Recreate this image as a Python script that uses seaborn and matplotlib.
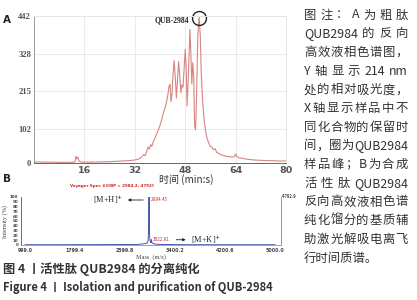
import re
import numpy as np
import pandas as pd
import seaborn as sns
import matplotlib
matplotlib.use("Agg")
import matplotlib.pyplot as plt
from matplotlib.patches import FancyArrowPatch

sns.set_style("white")
plt.rcParams["font.family"] = ["Noto Sans CJK SC", "DejaVu Sans"]

# ---------------- Panel A: RP-HPLC chromatogram ----------------
rt_min = [0, 2, 4, 6, 8, 10, 12, 13.0, 13.3, 13.6, 13.9, 14.3, 15, 18, 20, 22, 24, 26,
          28, 30, 31, 32, 33, 34, 34.8, 35.3, 35.8, 36.2, 36.6, 37.0, 37.4, 37.8, 38.3,
          38.8, 39.3, 39.8, 40.3, 40.8, 41.3, 41.7, 42.1, 42.5, 42.9, 43.2, 43.5, 43.8,
          44.1, 44.5, 44.9, 45.2, 45.5, 45.9, 46.3, 46.6, 47.0, 47.3, 47.7, 48.0, 48.3,
          48.6, 49.0, 49.5, 49.8, 50.1, 50.4, 50.7, 51.0, 51.3, 51.6, 52.0, 52.4, 52.8,
          53.1, 53.5, 54.0, 54.5, 55.0, 55.5, 56.0, 56.5, 57.0, 57.5, 58.0, 58.5, 59.0,
          60.0, 61.0, 62.0, 63.0, 63.6, 64.0, 64.4, 65.0, 66.0, 68.0, 70.0, 72.0, 75.0,
          78.0, 80.0]
absorb = [3, 3, 2.5, 2.5, 2, 2, 2, 3, 20, 12, 18, 5, 3, 2.5, 3, 3.5, 4, 5,
          6, 7, 8, 9, 11, 16, 25, 22, 35, 48, 42, 55, 50, 63, 72,
          85, 95, 108, 122, 140, 158, 168, 185, 205, 232, 236, 185, 205,
          260, 308, 250, 195, 240, 305, 260, 212, 235, 228, 290, 342, 290,
          172, 260, 402, 330, 238, 302, 260, 110, 100, 200, 380, 442, 380,
          270, 190, 130, 95, 72, 60, 50, 47, 40, 43, 32, 30, 26,
          23, 20, 19, 18, 19, 27, 20, 16, 14, 11, 9, 8, 7,
          6, 6]
a_xticks = [16, 32, 48, 64, 80]
a_yticks = [0, 102, 215, 328, 442]
a_peak_name = "QUB-2984"

# ---------------- Panel B: MALDI-TOF spectrum ----------------
mz = [999.0, 1500, 2000, 2500, 2800, 2900, 2950, 2970, 2978, 2982, 2984.45, 2987,
      2990, 2995, 3005, 3015, 3022.81, 3030, 3050, 3100, 3200, 3500, 4000, 5000.0]
intensity = [0.6, 0.6, 0.8, 0.9, 1.2, 2.5, 4, 9, 40, 85, 100, 70,
             35, 14, 7, 5, 11, 5, 3, 1.5, 1, 0.7, 0.6, 0.6]
b_xticks = [999.0, 1799.4, 2599.8, 3400.2, 4200.6, 5000.0]
b_yticks = [0, 10, 20, 30, 40, 50, 60, 70, 80, 90, 100]
b_title = "Voyager Spec #1[BP = 2984.2, 4792]"
b_peaks = [2984.45, 3022.81]
b_peak_heights = [100, 11]
b_peak_names = ["[M+H]$^{+}$", "[M+K]$^{+}$"]

caption_lines = ["图 注：A 为 粗 肽", "QUB2984 的 反 向", "高效液相色谱图，",
                 "Y 轴 显 示 214 nm", "处的相对吸光度，", "X 轴显示样品中不",
                 "同化合物的保留时", "间，圈为 QUB2984", "样品峰；B 为合成",
                 "活 性 肽 QUB2984", "反向高效液相色谱", "纯化馏分的基质辅",
                 "助激光解吸电离飞", "行时间质谱。"]
title_cn = "图 4 丨活性肽 QUB2984 的分离纯化"
title_en = "Figure 4 丨 Isolation and purification of QUB-2984"

W, H = 417, 300
fig = plt.figure(figsize=(W / 100, H / 100), dpi=100)


def fx(px):
    return px / W


def fy(py):
    return 1 - py / H


# ---------- Panel A ----------
axA = fig.add_axes([fx(34), fy(163), fx(286) - fx(34), fy(16) - fy(163)])
dfA = pd.DataFrame({"t": rt_min, "a": absorb})
sns.lineplot(data=dfA, x="t", y="a", ax=axA, color="#d98580", linewidth=0.8)
axA.set_xlim(0, 80)
axA.set_ylim(0, 442)
axA.set_xticks(a_xticks)
axA.set_xticklabels([str(v) for v in a_xticks], fontsize=6.8, fontweight="bold",
                    color="#555555", family=["DejaVu Sans"])
axA.set_yticks(a_yticks)
axA.set_yticklabels([str(v) for v in a_yticks], fontsize=6.2, fontweight="bold",
                    color="#555555", family=["Liberation Serif"])
axA.tick_params(length=0, pad=2)
axA.set_xlabel("")
axA.set_ylabel("")
for v in a_xticks[:-1]:
    axA.axvline(v, color="#e8e8e8", lw=0.6, zorder=0)
for v in a_yticks[1:-1]:
    axA.axhline(v, color="#e8e8e8", lw=0.6, zorder=0)
axA.spines["left"].set_color("#999999")
axA.spines["bottom"].set_color("#666666")
axA.spines["top"].set_color("#e4e4e4")
axA.spines["right"].set_color("#e4e4e4")
for s in axA.spines.values():
    s.set_linewidth(0.7)
ipk = int(np.argmax(absorb))
axA.plot(rt_min[ipk], absorb[ipk] - 5, marker="o", ms=10, mfc="none", mec="#222222",
         mew=1.0, clip_on=False)
axA.annotate(a_peak_name, xy=(rt_min[ipk], absorb[ipk]), xytext=(-7, -3),
             textcoords="offset points", ha="right", va="center", fontsize=5.5,
             fontweight="bold", family=["Liberation Serif"], color="#222222")

fig.text(fx(3), fy(20), "A", fontsize=7.5, fontweight="bold", color="#222222",
         va="center", ha="left", family=["DejaVu Sans"])
fig.text(fx(186), fy(180), "时间 (min:s)", fontsize=7.2, color="#333333",
         ha="center", va="center")

# ---------- Panel B ----------
axB = fig.add_axes([fx(21), fy(245), fx(281) - fx(21), fy(197) - fy(245)])
dfB = pd.DataFrame({"mz": mz, "i": intensity})
sns.lineplot(data=dfB, x="mz", y="i", ax=axB, color="#4455aa", linewidth=0.7)
axB.set_xlim(935, 5096)
axB.set_ylim(0, 100)
axB.set_xticks(b_xticks)
axB.set_xticklabels([f"{v:.1f}" for v in b_xticks], fontsize=3.4, fontweight="bold",
                    color="#444444", family=["DejaVu Sans"])
axB.set_yticks(b_yticks)
axB.set_yticklabels([str(v) for v in b_yticks], fontsize=2.9, fontweight="bold",
                    color="#444444", family=["DejaVu Sans"])
axB.tick_params(axis="y", length=1.2, width=0.4, pad=0.8, colors="#444444")
axB.tick_params(axis="x", length=1.0, width=0.4, pad=0.8, colors="#444444")
axB.set_xlabel("Mass  (m/z)", fontsize=4.5, family=["Liberation Serif"],
               color="#444444", labelpad=1)
axB.set_ylabel("Intensity (%)", fontsize=4.5, family=["Liberation Serif"],
               color="#444444", labelpad=1.5)
axB.spines["top"].set_visible(False)
axB.spines["left"].set_color("#555555")
axB.spines["bottom"].set_color("#8890b8")
axB.spines["right"].set_color("#888888")
for s in axB.spines.values():
    s.set_linewidth(0.6)
axB.text(1.0, 1.0, " 4792.9", transform=axB.transAxes, fontsize=3.0,
         fontweight="bold", color="#444444", ha="left", va="center")
fig.text(fx(112), fy(186), b_title, fontsize=2.9, fontweight="bold", color="#cc2222",
         ha="center", va="center", family=["DejaVu Sans"])

inv = fig.transFigure.inverted()
# [M+H]+ peak
px0, py0 = axB.transData.transform((b_peaks[0], b_peak_heights[0]))
axB.annotate(f"{b_peaks[0]:.2f}", xy=(b_peaks[0], b_peak_heights[0]), xytext=(1.5, -2),
             textcoords="offset points", fontsize=3.4, color="#cc3333",
             ha="left", va="center")
fig.add_artist(FancyArrowPatch(inv.transform((px0 - 3, py0 - 3)),
                               inv.transform((px0 - 24, py0 - 3)),
                               transform=fig.transFigure, arrowstyle="-|>",
                               mutation_scale=4, lw=0.6, color="#222222"))
fig.text(*inv.transform((px0 - 26, py0 - 3)), b_peak_names[0], fontsize=6,
         color="#222222", ha="right", va="center", family=["Liberation Serif"])

# [M+K]+ peak
px1, py1 = axB.transData.transform((b_peaks[1], b_peak_heights[1]))
axB.annotate(f"{b_peaks[1]:.2f}", xy=(b_peaks[1], b_peak_heights[1]), xytext=(1, 0),
             textcoords="offset points", fontsize=3.4, color="#cc3333",
             ha="left", va="center")
fig.add_artist(FancyArrowPatch(inv.transform((px1 + 22, py1)),
                               inv.transform((px1 + 37, py1)),
                               transform=fig.transFigure, arrowstyle="-|>",
                               mutation_scale=4, lw=0.6, color="#222222"))
fig.text(*inv.transform((px1 + 40, py1)), b_peak_names[1], fontsize=6,
         color="#222222", ha="left", va="center", family=["Liberation Serif"])

fig.text(fx(3), fy(179), "B", fontsize=7.5, fontweight="bold", color="#222222",
         va="center", ha="left", family=["DejaVu Sans"])

# ---------- right-hand note (justified) ----------
renderer = fig.canvas.get_renderer()
x_left, x_right = 304, 408
note_fs = 8.9
for i, line in enumerate(caption_lines):
    y = fy(15 + i * 18.7)
    tokens = re.findall(r"[A-Za-z0-9]+|\S", line)
    if i == len(caption_lines) - 1:
        fig.text(fx(x_left), y, line, fontsize=note_fs, color="#333333",
                 ha="left", va="center")
        continue
    arts = [fig.text(0, y, tk, fontsize=note_fs, color="#333333", ha="left",
                     va="center") for tk in tokens]
    widths = [a.get_window_extent(renderer).width for a in arts]
    gap = (x_right - x_left - sum(widths)) / max(len(tokens) - 1, 1)
    xpos = x_left
    for a, w in zip(arts, widths):
        a.set_x(fx(xpos))
        xpos += w + gap

# ---------- bottom captions ----------
fig.text(fx(3), fy(269), title_cn, fontsize=8.8, fontweight="bold", color="#333333",
         ha="left", va="center")
fig.text(fx(3), fy(287), title_en, fontsize=8.0, fontweight="bold", color="#333333",
         ha="left", va="center")

fig.savefig("out.png", dpi=100)
